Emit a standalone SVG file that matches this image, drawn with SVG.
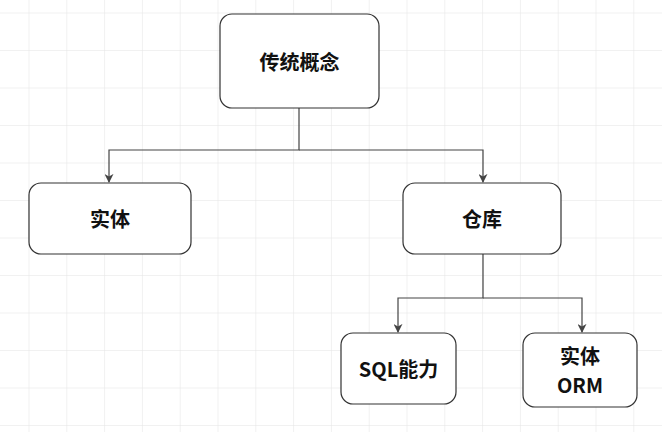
<svg xmlns="http://www.w3.org/2000/svg" width="662" height="432" viewBox="0 0 662 432">
<style>
.n{fill:#fff;stroke:#333;stroke-width:1.2}
.t{font-family:"Noto Sans CJK SC","Noto Sans",sans-serif;font-size:20px;font-weight:bold;fill:#111;text-anchor:middle;dominant-baseline:central}
.c{fill:none;stroke:#444;stroke-width:1.2}
</style>
<defs>
<pattern id="g" x="28.5" y="12.5" width="37.8" height="37.5" patternUnits="userSpaceOnUse">
<path d="M0 0H37.8M0 0V37.5" stroke="#e4e4e4" stroke-width="1" fill="none"/>
</pattern>
<marker id="a" viewBox="0 0 10 10" refX="9" refY="5" markerWidth="9" markerHeight="9" orient="auto" markerUnits="userSpaceOnUse">
<path d="M0 0L10 5L0 10L3 5Z" fill="#444"/>
</marker>
</defs>
<rect width="662" height="432" fill="#fff"/>
<rect width="662" height="432" fill="url(#g)"/>
<g id="connectors">
<path class="c" d="M299 108V150H109V182" marker-end="url(#a)"/>
<path class="c" d="M299 150H483V182" marker-end="url(#a)"/>
<path class="c" d="M483 254V298H398V332" marker-end="url(#a)"/>
<path class="c" d="M483 298H582V332" marker-end="url(#a)"/>
</g>
<g id="n1"><rect class="n" x="220" y="14" width="159" height="94" rx="12"/><text class="t" x="299.5" y="61">传统概念</text></g>
<g id="n2"><rect class="n" x="29" y="183" width="162" height="71" rx="12"/><text class="t" x="110" y="218">实体</text></g>
<g id="n3"><rect class="n" x="403" y="183" width="158" height="71" rx="12"/><text class="t" x="482" y="218">仓库</text></g>
<g id="n4"><rect class="n" x="341" y="333" width="115" height="71" rx="12"/><text class="t" x="398.5" y="368">SQL能力</text></g>
<g id="n5"><rect class="n" x="523" y="333" width="114" height="74" rx="12"/><text class="t" x="580" y="355">实体</text><text class="t" x="580" y="384">ORM</text></g>
</svg>
